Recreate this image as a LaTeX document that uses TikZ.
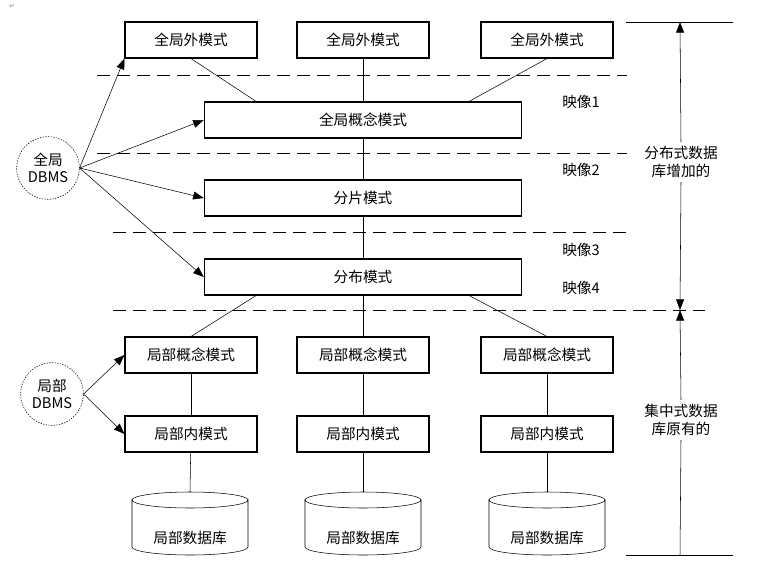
\documentclass[tikz,border=0pt]{standalone}
\usepackage{fontspec}
\setmainfont{Noto Sans CJK SC}
\newfontfamily\djv{DejaVu Sans}
\usetikzlibrary{arrows.meta}
\begin{document}
\begin{tikzpicture}[x=0.75pt,y=-0.75pt,
  box/.style={draw,thick,minimum height=27pt,inner sep=0pt,font=\fontsize{11}{12}\selectfont},
  sbox/.style={box,minimum width=99pt},
  wbox/.style={box,minimum width=238pt},
  dbms/.style={draw,dash pattern=on 1pt off 1pt,circle,minimum size=47pt,inner sep=0pt,align=center,font=\fontsize{11}{12.5}\selectfont},
  lab/.style={font=\fontsize{11}{13}\selectfont,align=center},
  arr/.style={-{Triangle[length=8pt,width=6pt]}},
  dsh/.style={dash pattern=on 10pt off 5pt}]
\useasboundingbox (0,0) rectangle (778,586);
\node[text=gray,font=\djv\tiny] at (12,6) {↵};
% top boxes
\node[sbox] (e1) at (191,40) {全局外模式};
\node[sbox] (e2) at (363,40) {全局外模式};
\node[sbox] (e3) at (547,40) {全局外模式};
\node[wbox] (gc) at (363,120) {全局概念模式};
\node[wbox] (fr) at (363,198) {分片模式};
\node[wbox] (di) at (363,277) {分布模式};
\node[sbox] (l1) at (191,355) {局部概念模式};
\node[sbox] (l2) at (363,355) {局部概念模式};
\node[sbox] (l3) at (547,355) {局部概念模式};
\node[sbox] (i1) at (191,434) {局部内模式};
\node[sbox] (i2) at (363,434) {局部内模式};
\node[sbox] (i3) at (547,434) {局部内模式};
% dashed lines
\draw[dsh] (97,75) -- (627,75);
\draw[dsh] (97,153) -- (627,153);
\draw[dsh] (113,232) -- (627,232);
\draw[dsh] (113,310) -- (705,310);
% connections
\draw (e1.south) -- (257,102);
\draw (e2) -- (gc);
\draw (e3.south) -- (468,102);
\draw (gc) -- (fr);
\draw (fr) -- (di);
\draw (di) -- (l2);
\draw (257,295) -- (l1.north);
\draw (468,295) -- (l3.north);
\draw (l1) -- (i1); \draw (l2) -- (i2); \draw (l3) -- (i3);
% cylinders
\foreach \n/\cx in {1/190,2/363,3/547}{
  \coordinate (c\n) at (\cx,492);
  \draw (\cx-58,500) arc[start angle=180,end angle=0,x radius=58,y radius=8]
        -- (\cx+58,547) arc[start angle=0,end angle=180,x radius=58,y radius=8] -- cycle;
  \draw (\cx-58,500) arc[start angle=180,end angle=360,x radius=58,y radius=8];
  \node[lab] (d\n) at (\cx,538) {局部数据库};
}
\draw (i1) -- (c1); \draw (i2) -- (c2); \draw (i3) -- (c3);
% DBMS
\node[dbms] (g) at (48,168) {全局\\DBMS};
\node[dbms] (l) at (52,394) {局部\\DBMS};
\draw[arr] (g.east) -- (e1.south west);
\draw[arr] (g.east) -- (gc.west);
\draw[arr] (g.east) -- (fr.west);
\draw[arr] (g.east) -- (di.west);
\draw[arr] (l.east) -- (l1.west);
\draw[arr] (l.east) -- (i1.west);
% mapping labels
\node[lab] (m1) at (581,102) {映像1};
\node[lab] (m2) at (581,170) {映像2};
\node[lab] (m3) at (581,250) {映像3};
\node[lab] (m4) at (581,288) {映像4};
% right side
\coordinate (t1) at (626,22); \coordinate (t2) at (733,22);
\coordinate (b1) at (626,555); \coordinate (b2) at (733,555);
\draw (t1) -- (t2); \draw (b1) -- (b2);
\node[lab] (up) at (681,162) {分布式数据\\库增加的};
\node[lab] (lo) at (681,420) {集中式数据\\库原有的};
\coordinate (ta) at (680,22); \coordinate (mid) at (680,310); \coordinate (ba) at (680,555);
\draw[arr] (up.north) -- (ta);
\draw[arr] (up.south) -- (mid);
\draw[arr] (lo.north) -- (mid);
\draw (lo.south) -- (ba);
\end{tikzpicture}
\end{document}
